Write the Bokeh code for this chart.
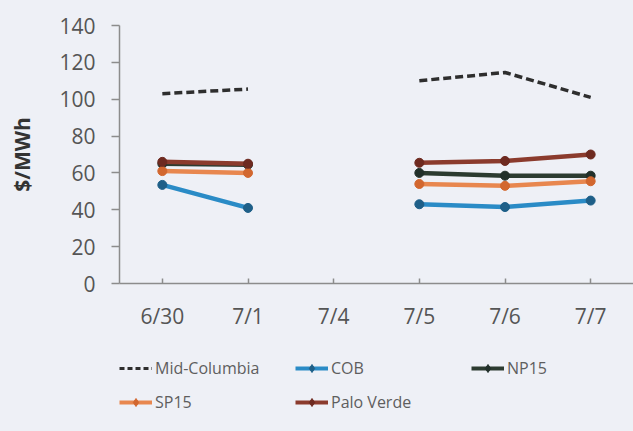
from bokeh.plotting import figure
from bokeh.models import Legend, LegendItem, Range1d, FixedTicker
from bokeh.layouts import column
from bokeh.embed import file_html
from bokeh.resources import INLINE
import math

nan = math.nan

# Trading days (7/4 holiday has no prices)
days = ["6/30", "7/1", "7/4", "7/5", "7/6", "7/7"]

mid_columbia = [103, 105.5, nan, 110, 114.5, 101]
cob = [53.5, 41, nan, 43, 41.5, 45]
np15 = [65, 64.5, nan, 60, 58.5, 58.5]
sp15 = [61, 60, nan, 54, 53, 55.5]
palo_verde = [66, 65, nan, 65.5, 66.5, 70]

y_ticks = [0, 20, 40, 60, 80, 100, 120, 140]

BG = "#eef0f6"
FONT = "Open Sans"

p = figure(
    x_range=days,
    y_range=Range1d(0, 140),
    width=633,
    height=340,
    output_backend="svg",
    toolbar_location=None,
    background_fill_color=BG,
    border_fill_color=BG,
    outline_line_color=None,
    min_border_left=119,
    min_border_right=0,
    min_border_top=25,
    min_border_bottom=57,
)
p.grid.visible = False
p.x_range.range_padding = 0

# axes
for ax in (p.xaxis[0], p.yaxis[0]):
    ax.axis_line_color = "#8c8c8c"
    ax.axis_line_width = 1.5
    ax.major_tick_line_color = "#8c8c8c"
    ax.major_tick_line_width = 1.5
    ax.minor_tick_line_color = None
    ax.major_label_text_font = FONT
    ax.major_label_text_font_size = "21px"
    ax.major_label_text_color = "#555555"

p.yaxis.ticker = FixedTicker(ticks=y_ticks)
p.yaxis.major_tick_out = 8
p.yaxis.major_tick_in = 0
p.yaxis.major_label_standoff = 16
p.yaxis.axis_label = "$/MWh"
p.yaxis.axis_label_text_font = FONT
p.yaxis.axis_label_text_font_style = "bold"
p.yaxis.axis_label_text_font_size = "21px"
p.yaxis.axis_label_text_color = "#333333"
p.yaxis.axis_label_standoff = 20

p.xaxis.major_tick_out = 0
p.xaxis.major_tick_in = 5
p.xaxis.major_label_standoff = 18

series = [
    ("Mid-Columbia", mid_columbia, "#2e2e2e", None),
    ("COB", cob, "#2a8bc6", "#1e5f88"),
    ("NP15", np15, "#2c3b30", "#22302a"),
    ("SP15", sp15, "#e8874f", "#d2672f"),
    ("Palo Verde", palo_verde, "#8b3b2d", "#6e2a20"),
]

# strip under the chart that carries the key
leg = figure(
    width=633,
    height=91,
    output_backend="svg",
    toolbar_location=None,
    x_range=Range1d(0, 1),
    y_range=Range1d(0, 1),
    x_axis_location=None,
    y_axis_location=None,
    background_fill_color=BG,
    border_fill_color=BG,
    outline_line_color=None,
    min_border_left=119,
    min_border_right=0,
    min_border_top=0,
    min_border_bottom=0,
)
leg.grid.visible = False
off = [-5]  # key glyphs sit outside the strip's ranges

items = []
for name, vals, color, mcolor in series:
    if mcolor is None:
        p.line(days, vals, line_color=color, line_width=3.5, line_dash="8 4")
        key = [leg.line(off, off, line_color=color, line_width=3,
                        line_dash="5 3")]
    else:
        p.line(days, vals, line_color=color, line_width=4.5)
        p.scatter(days, vals, size=9, marker="circle",
                  fill_color=mcolor, line_color=mcolor)
        key = [
            leg.line(off, off, line_color=color, line_width=4),
            leg.scatter(off, off, size=8, marker="diamond",
                        fill_color=mcolor, line_color=mcolor),
        ]
    items.append(LegendItem(label=name, renderers=key))

legend = Legend(
    items=items,
    ncols=3,
    location=(0, 15),
    orientation="horizontal",
    glyph_width=33,
    glyph_height=20,
    label_standoff=3,
    label_width=134,
    label_height=28,
    spacing=6,
    padding=0,
    margin=0,
    label_text_font=FONT,
    label_text_font_size="16px",
    label_text_color="#5e5e5e",
    background_fill_alpha=0,
    border_line_alpha=0,
)
leg.add_layout(legend, "center")

layout = column(p, leg, spacing=0, styles={"background-color": BG})
open("out.html", "w").write(file_html(layout, INLINE))
